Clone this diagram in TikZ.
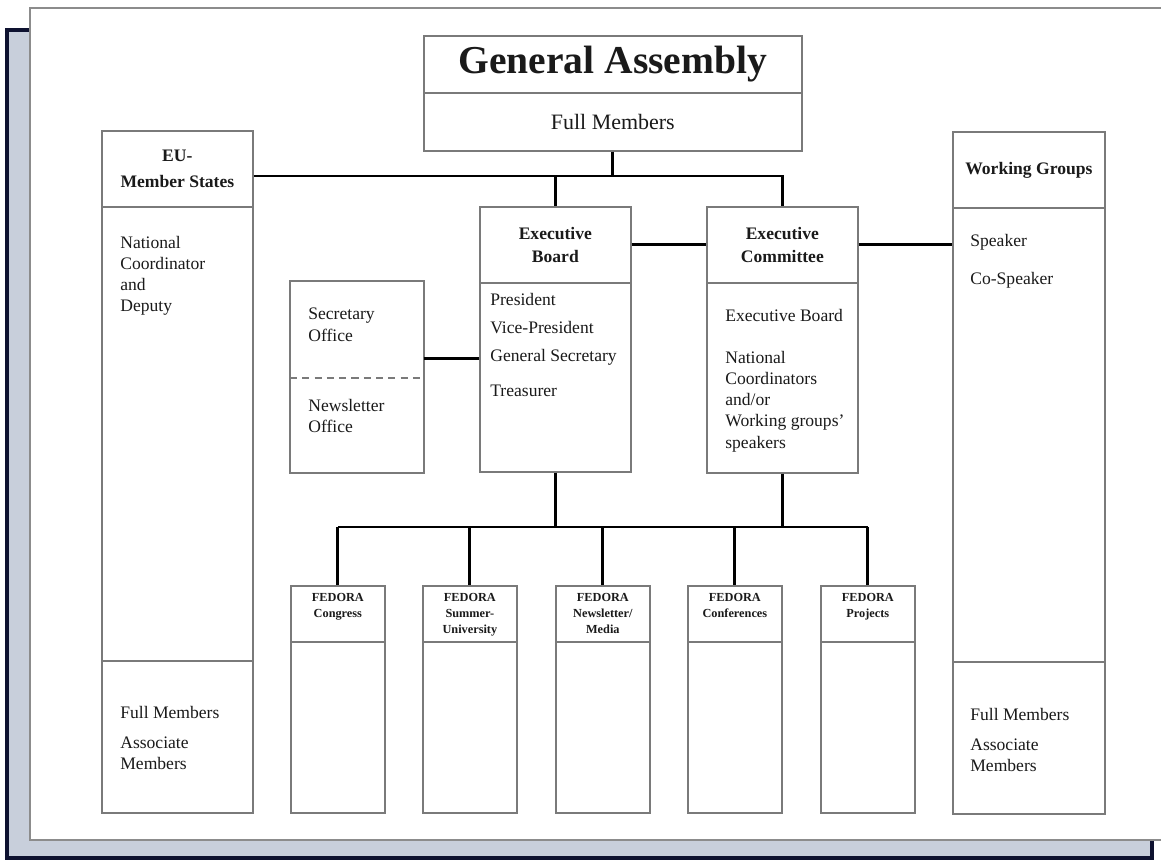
\documentclass[tikz,border=0pt]{standalone}
\usepackage{fontspec}
\setmainfont{Liberation Serif}
\usepackage{xcolor}
\definecolor{boxgray}{RGB}{122,122,122}
\definecolor{shadowfill}{RGB}{200,207,219}
\definecolor{shadowline}{RGB}{14,18,48}
\definecolor{framegray}{RGB}{140,140,140}
\definecolor{ink}{RGB}{26,26,26}

\begin{document}
\begin{tikzpicture}[x=0.02cm,y=-0.02cm,
    unitbox/.style={draw=boxgray,line width=1pt,fill=white,anchor=north west,inner sep=0pt,text=ink},
    headbox/.style={unitbox,align=center,font=\bfseries\fontsize{10}{13}\selectfont},
    fedhead/.style={unitbox,minimum width=1.88cm,minimum height=1.12cm},
    fedbody/.style={unitbox,minimum width=1.88cm,minimum height=3.42cm},
    fedtxt/.style={anchor=north,align=center,inner sep=0pt,text=ink,font=\bfseries\fontsize{7}{9}\selectfont},
    txt/.style={anchor=north west,align=left,inner sep=0pt,text=ink,font=\fontsize{10}{12}\selectfont},
    conn/.style={line width=1.7pt,draw=black}]
   \useasboundingbox (0,0) rectangle (1161,861);
   \clip (0,0) rectangle (1161,861);
   % frame with drop shadow
   \draw[draw=shadowline,line width=2.2pt,fill=shadowfill] (7,30) rectangle (1152,858);
   \draw[draw=framegray,line width=1.6pt,fill=white] (30,8) rectangle (1190,840);
   % general assembly
   \node[headbox,minimum width=7.56cm,minimum height=1.14cm,font=\bfseries\fontsize{22.5}{26}\selectfont] (gaH) at (423,35) {General Assembly};
   \node[unitbox,minimum width=7.56cm,minimum height=1.16cm,font=\fontsize{12.5}{14}\selectfont] (gaB) at (423,92) {Full Members};
   % member states
   \node[headbox,minimum width=3.02cm,minimum height=1.52cm] (euH) at (101,130) {EU-\\[2pt]Member States};
   \node[unitbox,minimum width=3.02cm,minimum height=9.08cm] (euB) at (101,206) {};
   \node[unitbox,minimum width=3.02cm,minimum height=3.04cm] (euF) at (101,660) {};
   \node[txt] (euT) at (120,236) {National\\Coordinator\\and\\Deputy};
   \node[txt] (euM) at (120,706) {Full Members\\[5pt]Associate\\Members};
   % working groups
   \node[headbox,minimum width=3.04cm,minimum height=1.52cm] (wgH) at (952,131) {Working Groups};
   \node[unitbox,minimum width=3.04cm,minimum height=9.08cm] (wgB) at (952,207) {};
   \node[unitbox,minimum width=3.04cm,minimum height=3.04cm] (wgF) at (952,661) {};
   \node[txt] (wgT) at (970,234) {Speaker\\[9.5pt]Co-Speaker};
   \node[txt] (wgM) at (970,708) {Full Members\\[5pt]Associate\\Members};
   % executive board
   \node[headbox,minimum width=3.02cm,minimum height=1.52cm] (ebH) at (479,206) {Executive\\Board};
   \node[unitbox,minimum width=3.02cm,minimum height=3.78cm] (ebB) at (479,282) {};
   \node[txt] (ebT) at (490,293) {President\\[4pt]Vice-President\\[4pt]General Secretary\\[8pt]Treasurer};
   % executive committee
   \node[headbox,minimum width=3.02cm,minimum height=1.52cm] (ecH) at (706,206) {Executive\\Committee};
   \node[unitbox,minimum width=3.02cm,minimum height=3.8cm] (ecB) at (706,282) {};
   \node[txt] (ecT) at (725,309) {Executive Board\\[12pt]National\\Coordinators\\and/or\\Working groups'\\speakers};
   % offices
   \node[unitbox,draw=none,fill=none,minimum width=2.64cm,minimum height=1.9cm] (secA) at (290,281) {};
   \node[unitbox,draw=none,fill=none,minimum width=2.64cm,minimum height=1.9cm] (secB) at (290,376) {};
   \draw[draw=boxgray,line width=1pt] (secA.north west) rectangle (secB.south east);
   \draw[draw=boxgray,line width=1pt,dash pattern=on 4pt off 3pt] (secA.south west) -- (secA.south east);
   \node[txt] (secT) at (308,308) {Secretary\\Office};
   \node[txt] (newsT) at (308,399) {Newsletter\\Office};
   % fedora units
   \node[fedhead] (fcongH) at (290,585) {};
   \node[fedbody] (fcongB) at (290,641) {};
   \node[fedtxt] at ([yshift=-0.16cm]fcongH.north) {FEDORA\\Congress};
   \node[fedhead] (fsumH) at (422,585) {};
   \node[fedbody] (fsumB) at (422,641) {};
   \node[fedtxt] at ([yshift=-0.16cm]fsumH.north) {FEDORA\\Summer-\\University};
   \node[fedhead] (fnewsH) at (555,585) {};
   \node[fedbody] (fnewsB) at (555,641) {};
   \node[fedtxt] at ([yshift=-0.16cm]fnewsH.north) {FEDORA\\Newsletter/\\Media};
   \node[fedhead] (fconfH) at (687,585) {};
   \node[fedbody] (fconfB) at (687,641) {};
   \node[fedtxt] at ([yshift=-0.16cm]fconfH.north) {FEDORA\\Conferences};
   \node[fedhead] (fprojH) at (820,585) {};
   \node[fedbody] (fprojB) at (820,641) {};
   \node[fedtxt] at ([yshift=-0.16cm]fprojH.north) {FEDORA\\Projects};
   % connectors
   \coordinate (topbar) at (0,176);
   \coordinate (botbar) at (0,527);
   \draw[conn] (gaB.south) -- (gaB.south |- topbar);
   \draw[conn] (euH.east |- topbar) -- (ecH.north |- topbar) -- (ecH.north);
   \draw[conn] (ebH.north |- topbar) -- (ebH.north);
   \draw[conn] (ebH.east) -- (ecH.west);
   \draw[conn] (ecH.east) -- (ecH.east -| wgB.west);
   \draw[conn] ([yshift=0.38cm]secA.south east) coordinate (secjoin) -- (secjoin -| ebB.west);
   \draw[conn] (ebB.south) -- (ebB.south |- botbar);
   \draw[conn] (ecB.south) -- (ecB.south |- botbar);
   \draw[conn] (fcongH.north |- botbar) -- (fprojH.north |- botbar);
   \draw[conn] (fcongH.north |- botbar) -- (fcongH.north);
   \draw[conn] (fsumH.north |- botbar) -- (fsumH.north);
   \draw[conn] (fnewsH.north |- botbar) -- (fnewsH.north);
   \draw[conn] (fconfH.north |- botbar) -- (fconfH.north);
   \draw[conn] (fprojH.north |- botbar) -- (fprojH.north);
\end{tikzpicture}
\end{document}
